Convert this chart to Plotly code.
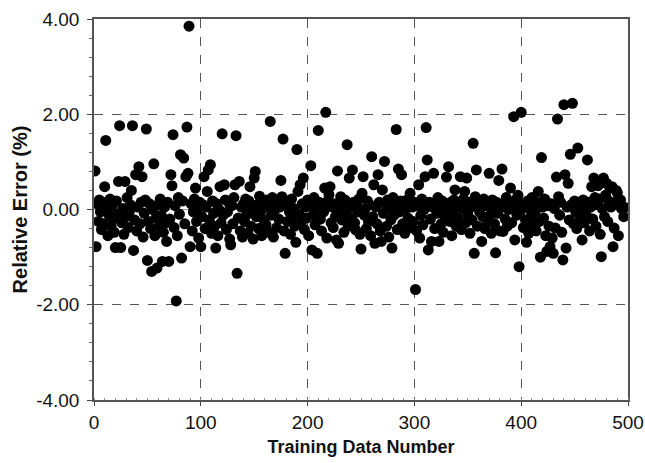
import plotly.graph_objects as go

# Relative error (%) of each training sample, samples numbered 1..497
rel_error = [
    0.81, -0.78, 0.12, -0.25, 0.20, -0.05, -0.42, 0.15, -0.30, 0.48,
    1.45, 0.05, -0.55, -0.12, 0.22, -0.35, 0.08, -0.20, -0.48, -0.80,
    0.18, -0.10, 0.59, 1.76, -0.80, -0.28, 0.02, -0.52, 0.59, -0.15,
    0.25, -0.38, -0.05, 0.10, 0.40, 1.76, -0.86, -0.22, 0.73, -0.45,
    0.05, 0.90, -0.30, 0.15, 0.69, -0.58, -0.08, 0.20, 1.69, -1.07,
    -0.25, 0.12, -0.40, -1.30, 0.00, 0.96, -0.55, -0.18, -1.23, 0.10,
    -0.35, 0.22, -0.12, -1.09, -0.48, 0.05, -0.28, -0.67, 0.15, -1.09,
    -0.20, 0.73, 0.50, 1.57, -0.38, 0.08, -1.92, -0.55, 0.25, -0.10,
    1.15, -1.02, 0.18, 1.08, -0.30, 0.69, 1.73, 0.76, 3.85, -0.78,
    0.12, -0.45, -0.05, 0.22, 0.45, -0.25, 0.02, -0.60, 0.15, -0.78,
    -0.15, 0.10, 0.69, -0.40, 0.05, 0.38, 0.83, -0.22, 0.94, -0.50,
    0.18, -0.08, -0.35, -0.81, 0.12, -0.55, 0.00, 0.48, -0.28, 1.59,
    -0.12, 0.52, 0.20, -0.42, -0.05, 0.15, -0.62, -0.74, 0.08, -0.30,
    0.25, 0.52, 1.55, -1.34, -0.18, 0.59, -0.45, 0.05, -0.58, 0.12,
    -0.25, 0.22, -0.10, -0.50, 0.18, 0.48, -0.35, 0.02, -0.62, 0.66,
    0.80, -0.15, 0.10, -0.40, 0.28, -0.05, -0.55, 0.15, -0.22, 0.05,
    -0.32, 0.20, -0.48, 0.08, 1.85, -0.12, 0.25, -0.58, -0.02, 0.12,
    -0.38, 0.18, -0.20, 0.05, 0.61, 0.27, 1.48, -0.45, -0.92, 0.10,
    -0.25, 0.15, -0.05, -0.52, 0.22, -0.15, 0.02, -0.35, -0.69, 1.26,
    0.38, -0.10, 0.52, -0.28, 0.12, 0.66, -0.42, 0.05, -0.18, 0.20,
    -0.55, 0.08, 0.92, -0.85, -0.12, 0.25, -0.32, 0.02, -0.92, 1.66,
    0.15, -0.20, -0.45, 0.10, -0.05, 0.45, 2.04, -0.60, 0.18, 0.31,
    0.48, -0.28, 0.05, -0.38, 0.12, -0.15, -0.64, 0.81, -0.71, 0.00,
    0.27, -0.22, 0.10, -0.48, 0.20, -0.08, 1.36, -0.35, 0.66, 0.05,
    -0.18, 0.83, 0.15, -0.28, -0.43, 0.08, -0.05, 0.22, -0.52, -0.83,
    0.34, 0.69, -0.12, 0.02, -0.40, 0.18, -0.25, 0.10, -0.55, 1.11,
    -0.15, 0.52, -0.71, 0.05, -0.30, 0.73, 0.15, -0.45, -0.67, 0.41,
    -0.08, 1.01, 0.12, -0.35, 0.20, -0.58, 0.02, -0.22, -0.81, 0.25,
    -0.12, 0.08, 1.68, -0.42, 0.85, -0.05, 0.18, 0.73, -0.30, 0.10,
    -0.50, 0.02, 0.20, -0.18, 0.12, 0.34, -0.38, 0.05, -0.25, 0.15,
    -1.68, -0.45, 0.08, 0.52, -0.60, -0.12, 0.22, -0.32, 0.00, 0.69,
    1.72, 1.04, -0.85, 0.15, -0.20, -0.67, 0.05, 0.76, -0.40, 0.12,
    -0.08, 0.25, -0.67, 0.02, -0.30, 0.18, -0.48, 0.10, -0.15, 0.68,
    0.05, 0.90, -0.25, 0.15, -0.55, -0.05, 0.20, 0.41, -0.35, 0.08,
    -0.18, 0.12, 0.69, -0.42, 0.02, 0.22, 0.38, -0.28, 0.66, -0.10,
    0.15, -0.50, 0.05, -0.22, 1.39, -0.92, 0.27, 0.83, -0.35, 0.10,
    -0.05, 0.18, -0.67, -0.15, 0.22, -0.40, 0.08, -0.25, 0.12, 0.76,
    -0.12, -0.50, 0.20, 0.02, -0.30, -0.91, 0.15, -0.08, 0.61, -0.45,
    0.10, 0.85, -0.46, 0.05, -0.20, 0.25, -0.35, 0.00, 0.15, 0.45,
    -0.28, 0.08, 1.95, -0.64, 0.20, -0.12, 0.30, -1.20, -0.05, 2.04,
    0.12, -0.38, 0.05, -0.22, -0.69, 0.18, -0.50, 0.02, -0.15, 0.25,
    -0.32, 0.10, -0.05, -0.45, 0.15, 0.38, -0.25, -1.00, 1.09, 0.05,
    -0.18, 0.22, -0.55, -0.88, 0.08, -0.35, -0.78, 0.12, -0.60, -0.92,
    0.02, -0.39, 0.68, 1.90, 0.27, -0.12, 0.15, -0.48, -1.06, 2.20,
    0.73, -0.81, 0.05, 0.55, -0.22, 1.16, 0.10, 2.23, -0.30, 0.18,
    -0.05, -0.40, 1.29, 0.12, -0.18, 0.02, -0.64, 0.20, -0.28, 0.08,
    -0.12, 1.04, 0.15, -0.45, 0.05, 0.48, -0.20, 0.66, 0.25, -0.35,
    0.10, 0.50, 0.22, -0.52, -0.99, 0.02, 0.66, -0.15, 0.30, 0.55,
    -0.25, 0.18, 0.45, 0.05, 0.48, -0.78, -0.39, 0.15, 0.40, 0.35,
    -0.55, 0.08, 0.20, 0.02, 0.05, -0.15, 0.04,
]
sample_no = list(range(1, len(rel_error) + 1))

x_ticks = [0, 100, 200, 300, 400, 500]
y_ticks = [-4, -2, 0, 2, 4]
y_tick_text = [f"{v:.2f}" for v in y_ticks]

tick_font = dict(family="Liberation Sans, Arial, sans-serif", size=19, color="#111111")
title_font_family = "Liberation Sans, Arial, sans-serif"

fig = go.Figure(
    go.Scatter(
        x=sample_no,
        y=rel_error,
        mode="markers",
        marker=dict(color="black", size=11, line=dict(width=0)),
        showlegend=False,
    )
)

fig.update_layout(
    width=645,
    height=463,
    margin=dict(l=94, r=17, t=19, b=63),
    paper_bgcolor="white",
    plot_bgcolor="white",
)

fig.update_xaxes(
    range=[0, 500],
    tickvals=x_ticks,
    tickfont=tick_font,
    ticks="outside",
    ticklen=4,
    tickcolor="#444444",
    automargin=False,
    showline=True,
    linecolor="#555555",
    linewidth=1.5,
    mirror=True,
    showgrid=True,
    gridcolor="#555555",
    griddash="dash",
    gridwidth=1,
    zeroline=False,
    minor=dict(dtick=10, ticks="inside", ticklen=2, tickcolor="#888888", showgrid=False),
    title=dict(
        text="<b>Training Data Number</b>",
        font=dict(family=title_font_family, size=18, color="#111111"),
        standoff=9,
    ),
)

fig.update_yaxes(
    range=[-4, 4],
    tickvals=y_ticks,
    ticktext=y_tick_text,
    tickfont=tick_font,
    ticks="outside",
    ticklen=5,
    tickcolor="#444444",
    ticklabelstandoff=4,
    automargin=False,
    showline=True,
    linecolor="#555555",
    linewidth=1.5,
    mirror=True,
    showgrid=True,
    gridcolor="#555555",
    griddash="dash",
    gridwidth=1,
    zeroline=True,
    zerolinecolor="#999999",
    zerolinewidth=1,
    minor=dict(dtick=0.4, ticks="outside", ticklen=3, tickcolor="#666666", showgrid=False),
    title=dict(
        text="<b>Relative Error (%)</b>",
        font=dict(family=title_font_family, size=20, color="#111111"),
        standoff=3,
    ),
)

fig.write_html("out.html")
